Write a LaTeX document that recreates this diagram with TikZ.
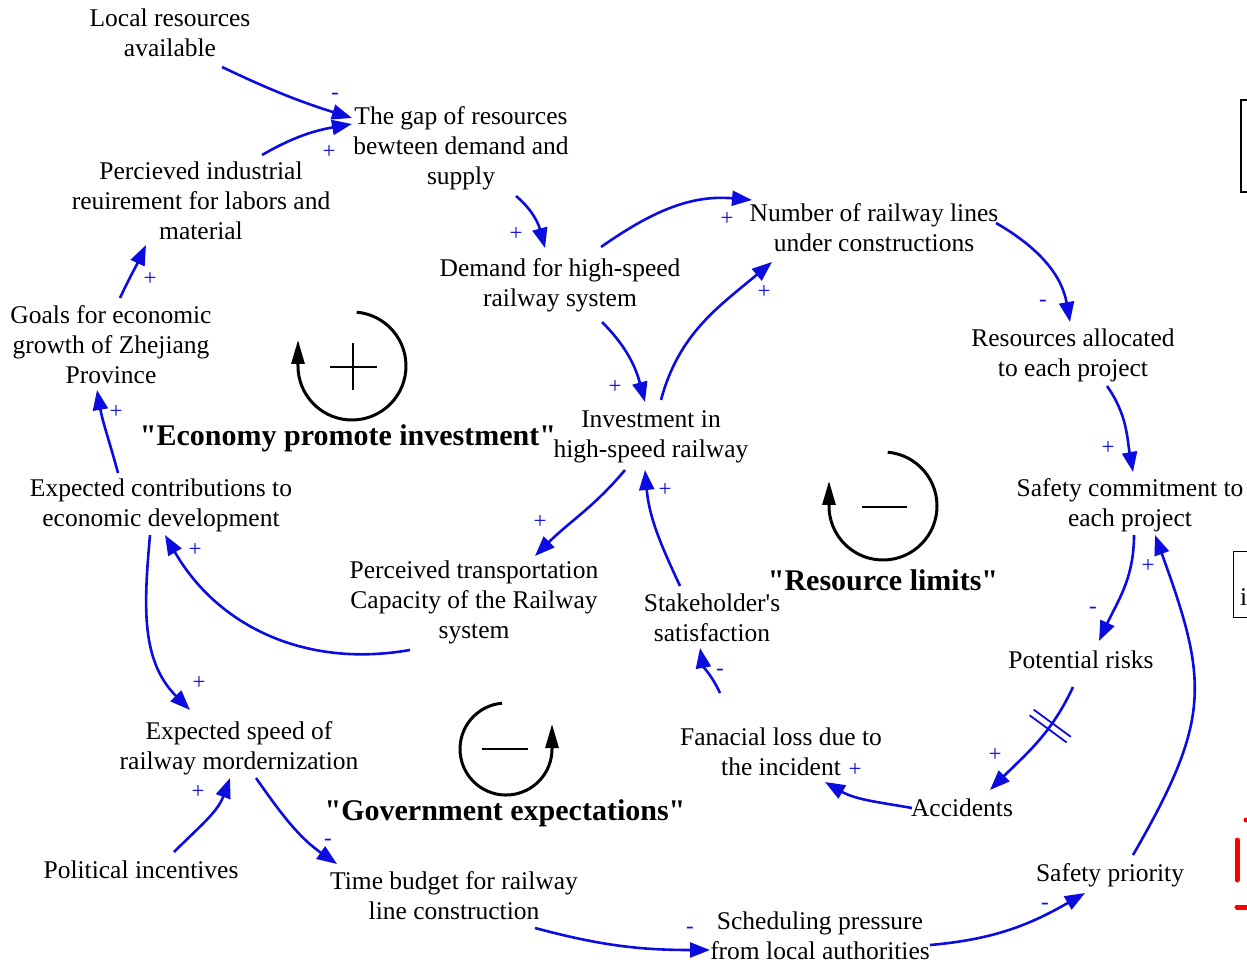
\documentclass[tikz,border=0pt]{standalone}
\usepackage{fontspec}
\setmainfont{Liberation Serif}[Ligatures=TeXOff]
\usetikzlibrary{arrows.meta,decorations.markings}
\definecolor{linkblue}{RGB}{12,12,225}
\begin{document}
\begin{tikzpicture}[x=1pt,y=1pt,
  var/.style={align=center,inner sep=0pt,font=\fontsize{25.5}{30}\selectfont},
  loopname/.style={font=\bfseries\fontsize{30}{34}\selectfont,inner sep=0pt},
  link/.style={draw=linkblue,line width=2.6pt,-{Triangle[length=20pt,width=15pt]}},
  pol/.style={text=linkblue,font=\fontsize{23}{23}\selectfont,inner sep=0pt},
  loopsym/.style={line width=3pt,-{Triangle[length=24pt,width=13pt]}},
  signbar/.style={line width=2.6pt},
  delaymark/.style={postaction={decorate,decoration={markings,
     mark=at position #1 with {\draw[-,linkblue,line width=1.8pt] (-3.5,-23)--(-3.5,23) (3.5,-23)--(3.5,23);}}}},
]
\useasboundingbox (0,0) rectangle (1247,-965);

% ---------------- variables ----------------
\node[var] (loc) at (170,-33) {Local resources\\available};
\node[var] (gap) at (461,-148) {The gap of resources\\bewteen demand and\\supply};
\node[var] (ind) at (201,-201) {Percieved industrial\\reuirement for labors and\\material};
\node[var] (num) at (874,-228) {Number of railway lines\\under constructions};
\node[var] (dem) at (560,-285) {Demand for high-speed\\railway system};
\node[var] (goals) at (111,-345) {Goals for economic\\growth of Zhejiang\\Province};
\node[var] (alloc) at (1073,-355) {Resources allocated\\to each project};
\node[var] (inv) at (651,-437) {Investment in\\high-speed railway};
\node[var] (contrib) at (161,-505) {Expected contributions to\\economic development};
\node[var] (safe) at (1130,-505) {Safety commitment to\\each project};
\node[var] (trans) at (474,-602) {Perceived transportation\\Capacity of the Railway\\system};
\node[var] (stake) at (712,-618) {Stakeholder's\\satisfaction};
\node[var] (risk) at (1081,-660) {Potential risks};
\node[var] (speed) at (239,-748) {Expected speed of\\railway mordernization};
\node[var] (loss) at (781,-752) {Fanacial loss due to\\the incident};
\node[var] (acc) at (962,-808) {Accidents};
\node[var] (pol) at (141,-870) {Political incentives};
\node[var] (time) at (454,-896) {Time budget for railway\\line construction};
\node[var] (prio) at (1110,-875) {Safety priority};
\node[var] (sched) at (820,-936) {Scheduling pressure\\from local authorities};

% ---------------- loop names ----------------
\node[loopname] (econ) at (348,-438) {"Economy promote investment"};
\node[loopname] (reslim) at (883,-580) {"Resource limits"};
\node[loopname] (govexp) at (505,-813) {"Government expectations"};

% ---------------- loop symbols ----------------
\draw[loopsym] (356.7,-312.2) arc[start angle=85,end angle=-180,radius=54] -- ++(0,26);
\draw[signbar] (330,-367) -- (377,-367) (353,-343) -- (353,-390);
\draw[loopsym] (887.7,-452.2) arc[start angle=85,end angle=-180,radius=54] -- ++(0,25);
\draw[signbar] (862,-507) -- (907,-507);
\draw[loopsym] (502,-703.2) arc[start angle=95,end angle=360,radius=46] -- ++(0,25);
\draw[signbar] (482,-749) -- (528,-749);

% ---------------- causal links ----------------
\draw[link] ([shift={(52,-34)}]loc.center) to[bend right=4] ([shift={(-109,30)}]gap.center);
\draw[link] ([shift={(61,46)}]ind.center) to[out=30,in=190] ([shift={(-109,24)}]gap.center);
\draw[link] ([shift={(55,-48)}]gap.center) to[out=-40,in=105] ([shift={(-15,37)}]dem.center);
\draw[link] ([shift={(41,38)}]dem.center) to[out=35,in=175] ([shift={(-122,28)}]num.center);
\draw[link] ([shift={(42,-37)}]dem.center) to[out=-45,in=105] ([shift={(-6,35)}]inv.center);
\draw[link] ([shift={(10,37)}]inv.center) to[out=75,in=220] ([shift={(-102,-34)}]num.center);
\draw[link] ([shift={(122,5)}]num.center) to[out=-30,in=100] ([shift={(-3,33)}]alloc.center);
\draw[link] ([shift={(34,-31)}]alloc.center) to[out=-55,in=100] ([shift={(3,33)}]safe.center);
\draw[link] ([shift={(4,-30)}]safe.center) to[out=-90,in=65] ([shift={(18,19)}]risk.center);
\draw[link,delaymark=0.34] ([shift={(-8,-27)}]risk.center) to[out=-115,in=45] ([shift={(28,18)}]acc.center);
\draw[link] ([shift={(-50,0)}]acc.center) to[out=170,in=-30] ([shift={(44,-30)}]loss.center);
\draw[link] ([shift={(-61,59)}]loss.center) to[out=115,in=-80] ([shift={(-12,-30)}]stake.center);
\draw[link] ([shift={(-32,32)}]stake.center) to[out=115,in=-85] ([shift={(-6,-33)}]inv.center);
\draw[link] ([shift={(-26,-33)}]inv.center) to[out=-130,in=45] ([shift={(61,46)}]trans.center);
\draw[link] ([shift={(-64,-48)}]trans.center) to[out=190,in=-60] ([shift={(4,-30)}]contrib.center);
\draw[link] ([shift={(-43,32)}]contrib.center) to[out=105,in=-80] ([shift={(-14,-45)}]goals.center);
\draw[link] ([shift={(9,47)}]goals.center) to[out=65,in=-115] ([shift={(-55,-44)}]ind.center);
\draw[link] ([shift={(-11,-30)}]contrib.center) to[out=-95,in=135] ([shift={(-49,38)}]speed.center);
\draw[link] ([shift={(33,18)}]pol.center) to[out=45,in=-110] ([shift={(-9,-30)}]speed.center);
\draw[link] ([shift={(17,-30)}]speed.center) to[out=-55,in=145] ([shift={(-117,32)}]time.center);
\draw[link] ([shift={(81,-32)}]time.center) to[out=-15,in=180] ([shift={(-110,-14)}]sched.center);
\draw[link] ([shift={(110,-9)}]sched.center) to[out=5,in=-150] ([shift={(-25,-18)}]prio.center);
\draw[link] ([shift={(23,20)}]prio.center) to[out=60,in=-70,looseness=1.25] ([shift={(25,-30)}]safe.center);

% ---------------- link polarities ----------------
\node[pol] (p1) at (335,-96) {-};
\node[pol] (p2) at (329,-152) {+};
\node[pol] (p3) at (516,-234) {+};
\node[pol] (p4) at (727,-219) {+};
\node[pol] (p5) at (615,-387) {+};
\node[pol] (p6) at (764,-292) {+};
\node[pol] (p7) at (1043,-303) {-};
\node[pol] (p8) at (1108,-448) {+};
\node[pol] (p9) at (1148,-566) {+};
\node[pol] (p10) at (1093,-610) {-};
\node[pol] (p11) at (995,-755) {+};
\node[pol] (p12) at (855,-770) {+};
\node[pol] (p13) at (720,-672) {-};
\node[pol] (p14) at (665,-490) {+};
\node[pol] (p15) at (540,-522) {+};
\node[pol] (p16) at (195,-550) {+};
\node[pol] (p17) at (116,-412) {+};
\node[pol] (p18) at (150,-279) {+};
\node[pol] (p19) at (199,-683) {+};
\node[pol] (p20) at (198,-792) {+};
\node[pol] (p21) at (328,-842) {-};
\node[pol] (p22) at (690,-930) {-};
\node[pol] (p23) at (1045,-906) {-};

% ---------------- items cut at the right edge ----------------
\draw[line width=1.5pt] (1250,-100) -- (1241,-100) -- (1241,-192) -- (1250,-192);
\draw[line width=1pt] (1250,-551) -- (1233,-551) -- (1233,-617) -- (1250,-617);
\node[var,anchor=base west] (cut) at (1240,-605) {i};
\fill[red] (1246,-820) circle (2.5);
\draw[red,line width=5pt,line cap=round] (1237,-840) -- (1237,-880);
\draw[red,line width=5pt,line cap=round] (1237,-907) -- (1252,-907);
\end{tikzpicture}
\end{document}
